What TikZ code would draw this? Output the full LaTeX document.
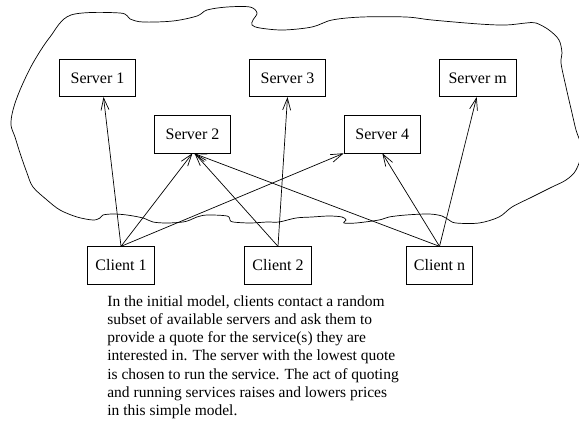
\documentclass[tikz,border=0pt]{standalone}
\usepackage{fontspec}
\setmainfont{Liberation Serif}
\usetikzlibrary{arrows.meta}
\begin{document}
\begin{tikzpicture}[x=1pt, y=-1pt, line width=0.7pt,
    box/.style={draw, minimum width=76.4pt, minimum height=37.4pt, inner sep=0pt, font=\fontsize{16}{18}\selectfont},
    cbox/.style={box, minimum width=66.6pt, minimum height=37.6pt},
    link/.style={-{Straight Barb[length=12pt, width=8pt]}}]
    \useasboundingbox (0,0) rectangle (579,437);
    \draw plot[smooth cycle, tension=0.55] coordinates {
        (71,15) (120,13) (130,19) (143,22) (173,21) (197,16) (207,10) (227,7)
        (250,7) (257,13) (253,20) (252,25) (260,28) (283,30) (312,27) (332,20)
        (362,17) (406,17) (432,20) (479,24) (506,25) (526,23) (536,23) (549,30)
        (559,40) (562,53) (561,63) (566,87) (572,113) (576,130) (582,150) (576,170)
        (566,180) (552,187) (532,197) (512,207) (499,217) (479,223) (456,223) (449,220)
        (442,216) (429,214) (406,215) (389,217) (379,220) (356,223) (344,223) (346,220)
        (342,217) (329,216) (312,217) (296,218) (279,222) (267,222) (250,223) (233,222)
        (230,220) (227,216) (207,215) (197,217) (190,220) (183,222) (167,223) (153,222)
        (143,218) (127,215) (113,214) (103,215) (100,218) (93,220) (77,217) (60,210)
        (47,200) (33,187) (27,173) (20,153) (15,137) (11,125) (13,110) (20,90)
        (33,63) (50,37)};

    \node[box] (s1) at (97.5,78) {Server 1};
    \node[box] (s3) at (287.5,78) {Server 3};
    \node[box] (sm) at (477.7,78) {Server m};
    \node[box] (s2) at (192.5,134.2) {Server 2};
    \node[box] (s4) at (382.3,134.2) {Server 4};

    \node[cbox] (c1) at (121,265.5) {Client 1};
    \node[cbox] (c2) at (278,265.5) {Client 2};
    \node[cbox] (cn) at (439.5,265.5) {Client n};

    \draw[link] (c1.north) -- ([xshift=6pt]s1.south);
    \draw[link] (c1.north) -- (s2.south);
    \draw[link] (c1.north) -- (s4.south west);
    \draw[link] (c2.north) -- ([xshift=2pt]s2.south);
    \draw[link] (c2.north) -- (s3.south);
    \draw[link] (cn.north) -- ([xshift=1pt]s2.south);
    \draw[link] (cn.north) -- (s4.south);
    \draw[link] (cn.north) -- ([xshift=-1pt]sm.south);

    \node[anchor=base west, align=left, inner sep=0pt, font=\fontsize{15.5}{18.3}\selectfont] (note) at (107,415.8)
        {In the initial model, clients contact a random\\
        subset of available servers and ask them to\\
        provide a quote for the service(s) they are\\
        interested in. The server with the lowest quote\\
        is chosen to run the service. The act of quoting\\
        and running services raises and lowers prices\\
        in this simple model.};
\end{tikzpicture}
\end{document}
